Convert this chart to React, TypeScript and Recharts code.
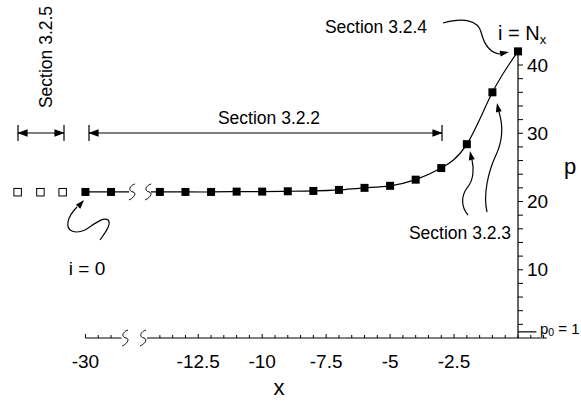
import {
  ComposedChart,
  Line,
  Scatter,
  XAxis,
  YAxis,
  ReferenceLine,
  ReferenceDot,
  Customized,
} from "recharts";

// grid nodes x_i and pressure p_i along the boundary
const NODE_X = [-30, -29, -14, -13, -12, -11, -10, -9, -8, -7, -6, -5, -4, -3, -2, -1, 0];
const NODE_P = [21.4, 21.4, 21.4, 21.4, 21.4, 21.45, 21.45, 21.5, 21.55, 21.7, 22.0, 22.3, 23.2, 24.9, 28.4, 36.0, 42.0];

// ghost nodes left of i = 0
const GHOST_X = [-32.66, -31.77, -30.9];
const GHOST_P = [21.4, 21.4, 21.4];

const X_TICK_LABELS = [-30, -12.5, -10, -7.5, -5, -2.5];
const P_TICK_LABELS = [10, 20, 30, 40];
const P0 = 0.9;

// the x axis is broken between -29 and -14: far-left nodes are shifted right
const SHIFT = 13.09;
const toAxis = (x: number) => (x < -20 ? x + SHIFT : x);
const fromAxis = (u: number) => (u < -15 ? +(u - SHIFT).toFixed(2) : u);

const INK = "#000";
const W = 581;
const H = 402;

const nodes = NODE_X.map((x, i) => ({ u: toAxis(x), p: NODE_P[i] }));
const ghosts = GHOST_X.map((x, i) => ({ u: toAxis(x), p: GHOST_P[i] }));
const leftLine = [...nodes.filter((d) => d.u < -15), { u: -15.2, p: NODE_P[0] }];
const mainLine = [{ u: -14.35, p: NODE_P[2] }, ...nodes.filter((d) => d.u > -15)];

const xTicks: number[] = [toAxis(-30), toAxis(-29.5), toAxis(-29)];
for (let v = -14; v <= 0; v += 0.5) xTicks.push(v);
const pTicks: number[] = [];
for (let v = 2; v <= 40; v += 2) pTicks.push(v);

function XTick(props: any) {
  const { x, y, payload } = props;
  const real = fromAxis(payload.value);
  const labelled = X_TICK_LABELS.some((v) => Math.abs(v - real) < 1e-6);
  return (
    <g>
      <line x1={x} y1={y} x2={x} y2={y - (labelled ? 4 : 3)} stroke={INK} />
      {labelled && (
        <text x={x} y={y + 30} textAnchor="middle" fontSize={19} fill={INK}>
          {String(real)}
        </text>
      )}
    </g>
  );
}

const FilledNode = (props: any) => (
  <rect x={props.cx - 4} y={props.cy - 4} width={8} height={8} fill={INK} />
);
const HollowNode = (props: any) => (
  <rect x={props.cx - 3.5} y={props.cy - 3.5} width={7.5} height={7.5} fill="#fff" stroke={INK} strokeWidth={1} />
);

// small break mark
const Squiggle = (props: any) => {
  const { cx, cy } = props;
  return (
    <path
      d={`M${cx + 3},${cy - 8} C${cx - 3},${cy - 6} ${cx - 4},${cy - 1} ${cx + 1},${cy} C${cx + 5},${cy + 1} ${cx + 2},${cy + 6} ${cx - 3},${cy + 8}`}
      fill="none"
      stroke={INK}
      strokeWidth={1}
    />
  );
};

function Head({ tip, from, len = 9, half = 3 }: { tip: number[]; from: number[]; len?: number; half?: number }) {
  const [tx, ty] = tip;
  const a = Math.atan2(ty - from[1], tx - from[0]);
  const bx = tx - len * Math.cos(a);
  const by = ty - len * Math.sin(a);
  const nx = -Math.sin(a) * half;
  const ny = Math.cos(a) * half;
  return <polygon points={`${tx},${ty} ${bx + nx},${by + ny} ${bx - nx},${by - ny}`} fill={INK} />;
}

function Span({ x1, x2, y }: { x1: number; x2: number; y: number }) {
  return (
    <g stroke={INK} strokeWidth={1.2}>
      <line x1={x1} y1={y - 8} x2={x1} y2={y + 8} />
      <line x1={x2} y1={y - 8} x2={x2} y2={y + 8} />
      <line x1={x1} y1={y} x2={x2} y2={y} />
      <Head tip={[x1 + 1, y]} from={[x2, y]} len={8} half={2.8} />
      <Head tip={[x2 - 1, y]} from={[x1, y]} len={8} half={2.8} />
    </g>
  );
}

function Annotations() {
  const curve = { fill: "none", stroke: INK, strokeWidth: 1.2 };
  return (
    <g fontFamily="'Liberation Sans', Arial, sans-serif" fill={INK}>
      {/* extents of the boundary sections */}
      <Span x1={18} x2={64} y={133} />
      <Span x1={89} x2={442} y={133} />
      <text x={269} y={124} textAnchor="middle" fontSize={17.5}>Section 3.2.2</text>
      <text x={52} y={57} textAnchor="middle" fontSize={17.5} transform="rotate(-90 52 57)">
        Section 3.2.5
      </text>

      {/* outflow end */}
      <text x={376} y={33} textAnchor="middle" fontSize={17.5}>Section 3.2.4</text>
      <path d="M443,23 C465,17 478,21 481,32 C484,44 489,53 500,54" {...curve} />
      <Head tip={[509, 52]} from={[498, 54]} />
      <text x={498} y={40} fontSize={20}>
        i = N<tspan fontSize={13} dy={4}>x</tspan>
      </text>

      {/* interior nodes near the end */}
      <text x={460} y={239} textAnchor="middle" fontSize={17.5}>Section 3.2.3</text>
      <path d="M468,215 C461,207 461,196 467,188 C474,180 474,168 472,160" {...curve} />
      <Head tip={[470, 151]} from={[472, 161]} />
      <path d="M487,212 C483,195 488,172 496,155 C503,140 503,125 499,112" {...curve} />
      <Head tip={[497, 103]} from={[499, 113]} />

      {/* inflow end */}
      <path d="M100,240 C105,233 112,224 108,220 C103,216 92,226 85,230 C76,234 66,232 68,222 C69,216 73,211 77,207" {...curve} />
      <Head tip={[84, 200]} from={[77, 208]} />
      <text x={87} y={275} textAnchor="middle" fontSize={19}>i = 0</text>

      {/* axis titles */}
      <text x={570} y={174} textAnchor="middle" fontSize={22}>p</text>
      <text x={279} y={395} textAnchor="middle" fontSize={22}>x</text>
      <text x={540} y={334} fontSize={15}>
        p<tspan fontSize={10.5} dy={2}>0</tspan>
        <tspan dy={-2}> = 1</tspan>
      </text>
    </g>
  );
}

export default function App() {
  return (
    <div style={{ position: "absolute", left: 0, top: 0, width: W, height: H, background: "#fff" }}>
      <ComposedChart
        width={W}
        height={H}
        margin={{ top: 50, right: 0, bottom: 0, left: 0 }}
        style={{ fontFamily: "'Liberation Sans', Arial, sans-serif" }}
      >
        <XAxis
          dataKey="u"
          type="number"
          domain={[-20.25, 0]}
          ticks={xTicks}
          interval={0}
          height={64}
          axisLine={false}
          tickLine={false}
          tickSize={0}
          tickMargin={0}
          tick={<XTick />}
        />
        <YAxis
          dataKey="p"
          type="number"
          orientation="right"
          domain={[0, 42.2]}
          ticks={pTicks}
          interval={0}
          width={63}
          tickSize={5}
          tickMargin={4}
          axisLine={{ stroke: INK, strokeWidth: 1.2 }}
          tickLine={{ stroke: INK }}
          tick={{ fontSize: 19, fill: INK }}
          tickFormatter={(v: number) => (P_TICK_LABELS.includes(v) ? String(v) : "")}
        />

        {/* broken x axis line */}
        <ReferenceLine segment={[{ x: toAxis(-30), y: 0 }, { x: -15.5, y: 0 }]} stroke={INK} strokeWidth={1.2} />
        <ReferenceLine segment={[{ x: -14.5, y: 0 }, { x: 1.13, y: 0 }]} stroke={INK} strokeWidth={1.2} ifOverflow="visible" />
        <ReferenceLine segment={[{ x: 0.5, y: 0 }, { x: 0.5, y: 0.45 }]} stroke={INK} ifOverflow="visible" />
        <ReferenceLine segment={[{ x: 1, y: 0 }, { x: 1, y: 0.45 }]} stroke={INK} ifOverflow="visible" />
        <ReferenceDot x={-15.36} y={0} r={0} shape={Squiggle} />
        <ReferenceDot x={-14.66} y={0} r={0} shape={Squiggle} />

        {/* far-field pressure level */}
        <ReferenceLine segment={[{ x: 0, y: P0 }, { x: 0.72, y: P0 }]} stroke={INK} strokeWidth={1.2} ifOverflow="visible" />

        {/* pressure profile */}
        <Line data={leftLine} dataKey="p" type="linear" stroke={INK} strokeWidth={1.2} dot={false} isAnimationActive={false} />
        <Line data={mainLine} dataKey="p" type="natural" stroke={INK} strokeWidth={1.2} dot={false} isAnimationActive={false} />
        <ReferenceDot x={-15.09} y={NODE_P[0]} r={0} shape={Squiggle} />
        <ReferenceDot x={-14.46} y={NODE_P[0]} r={0} shape={Squiggle} />

        <Scatter data={ghosts} shape={HollowNode} isAnimationActive={false} />
        <Scatter data={nodes} shape={FilledNode} isAnimationActive={false} />

        <Customized component={<Annotations />} />
      </ComposedChart>
    </div>
  );
}
